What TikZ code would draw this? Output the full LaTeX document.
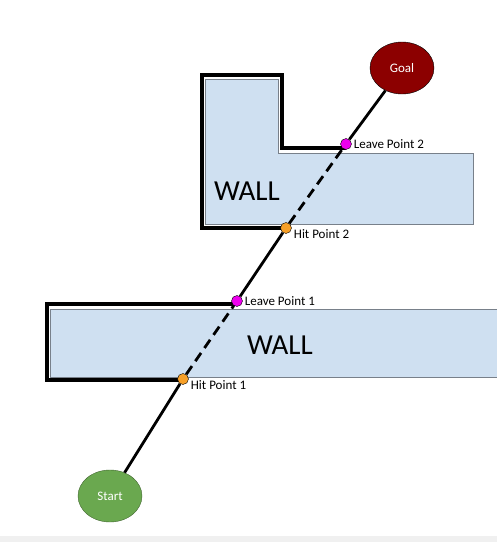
\documentclass[tikz,border=0pt]{standalone}
\usepackage{fontspec}
\setmainfont{Carlito}
\usetikzlibrary{shapes.geometric}
\definecolor{wallblue}{RGB}{207,224,241}
\definecolor{wallgray}{RGB}{120,128,138}
\definecolor{goalred}{RGB}{140,0,0}
\definecolor{startgreen}{RGB}{106,168,79}
\definecolor{hitorange}{RGB}{247,160,40}
\definecolor{leavepink}{RGB}{238,0,238}
\begin{document}
\begin{tikzpicture}[x=1pt, y=-1pt]
        \tikzstyle{wall}=[fill=wallblue, draw=wallgray, line width=1pt]
        \tikzstyle{border}=[line width=3.5pt, line join=miter]
        \tikzstyle{route}=[line width=2.8pt]
        \tikzstyle{bump}=[route, dash pattern=on 10pt off 6pt]
        \tikzstyle{hit}=[draw, circle, fill=hitorange,
            minimum size=11pt, inner sep=0pt]
        \tikzstyle{leave}=[draw, circle, fill=leavepink,
            minimum size=11pt, inner sep=0pt]
        \tikzstyle{goal}=[draw, ellipse, fill=goalred, text=white,
            minimum width=64pt, minimum height=52pt, font=\fontsize{13}{15}\selectfont]
        \tikzstyle{start}=[draw=startgreen!60!black, ellipse, fill=startgreen, text=white,
            minimum width=64pt, minimum height=52pt, font=\fontsize{13}{15}\selectfont]
        \tikzset{every label/.style={font=\fontsize{13}{15}\selectfont, inner sep=2pt}}

        \useasboundingbox (0, 0) rectangle (497, 542);
        \fill[gray!12] (0, 536) rectangle (497, 542);

        % walls
        \draw[wall] (50, 309) rectangle (505, 377);
        \draw[wall] (205, 79) -- (278, 79) -- (278, 153) -- (473, 153)
            -- (473, 224) -- (205, 224) -- cycle;
        \draw[border] (237, 304) -- (47, 304) -- (47, 380) -- (183, 380);
        \draw[border] (346, 148) -- (282, 148) -- (282, 75) -- (202, 75)
            -- (202, 228) -- (286, 228);
        \node[font=\fontsize{29}{33}\selectfont] (wall1) at (280, 345) {WALL};
        \node[font=\fontsize{29}{33}\selectfont] (wall2) at (247, 191) {WALL};

        \node[start] (s) at (110, 496) {Start};
        \node[goal] (g) at (402, 68) {Goal};
        \node[hit, label={[yshift=-6pt]right:Hit Point 1}] (h1) at (183, 379) {};
        \node[leave, label=right:Leave Point 1] (l1) at (237, 301) {};
        \node[hit, label={[yshift=-6pt]right:Hit Point 2}] (h2) at (286, 228) {};
        \node[leave, label=right:Leave Point 2] (l2) at (346, 144) {};

        \draw[route] (s) to (h1);
        \draw[bump] (h1) to (l1);
        \draw[route] (l1) to (h2);
        \draw[bump] (h2) to (l2);
        \draw[route] (l2) to (g);

    \end{tikzpicture}
\end{document}
